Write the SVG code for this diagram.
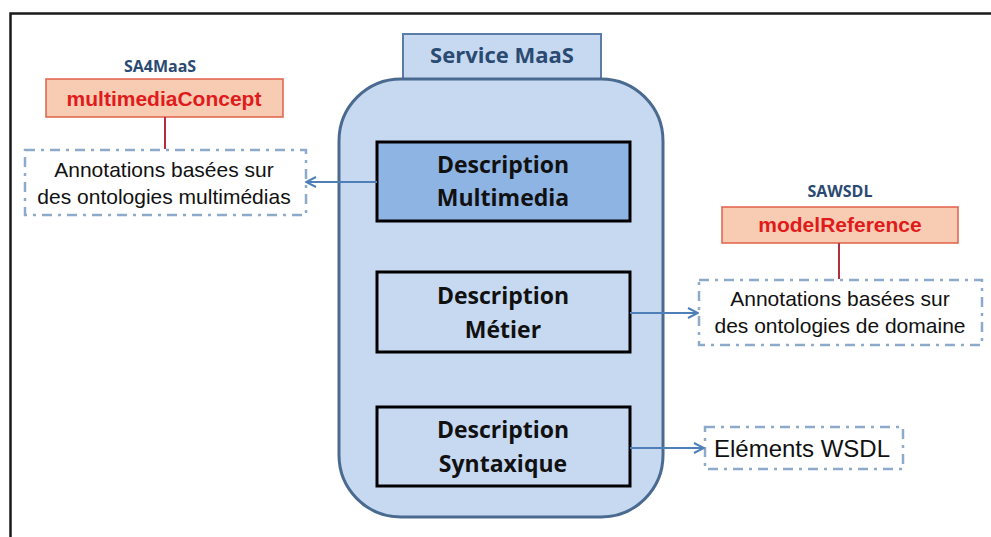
<svg xmlns="http://www.w3.org/2000/svg" width="991" height="537" viewBox="0 0 991 537">
<defs>
<style>
.frame{fill:none;stroke:#1a1a1a;stroke-width:2.5}
.cal{font-family:"Open Sans","Liberation Sans",sans-serif;font-weight:bold;text-anchor:middle}
.ar{font-family:"Liberation Sans",Arial,sans-serif;text-anchor:middle;fill:#111;font-size:21px}
.desc{stroke:#000;stroke-width:3}
.dash{fill:#fff;stroke:#8eaacb;stroke-width:2.5;stroke-dasharray:10 6 3 6}
.tag{fill:#f8cbb3;stroke:#e0604a;stroke-width:1.5}
.tagtxt{font-family:"Liberation Sans",Arial,sans-serif;font-weight:bold;text-anchor:middle;fill:#e01b1b;font-size:21px}
.std{font-family:"Open Sans","Liberation Sans",sans-serif;font-weight:bold;text-anchor:middle;fill:#2b4a72;font-size:16px}
.conn{fill:none;stroke:#4f7fb8;stroke-width:2}
.link{stroke:#b03040;stroke-width:2}
</style>
<marker id="arr" viewBox="0 0 12 12" refX="11" refY="6" markerWidth="12" markerHeight="12" markerUnits="userSpaceOnUse" orient="auto">
<path d="M1,1 L11,6 L1,11" fill="none" stroke="#4f7fb8" stroke-width="2"/>
</marker>
</defs>
<rect width="991" height="537" fill="#fff"/>
<path class="frame" d="M10.5,537 V13.5 H991"/>

<g id="service">
<rect x="403" y="34" width="198" height="45" fill="#c6d9f1" stroke="#5a7ca6" stroke-width="2"/>
<text class="cal" x="502" y="63" font-size="22" fill="#2b4a72">Service MaaS</text>
<rect x="339" y="79" width="324" height="438" rx="62" ry="62" fill="#c6d9f1" stroke="#4a6a90" stroke-width="3"/>
</g>

<g id="desc-multimedia">
<rect class="desc" x="377" y="142" width="253" height="79" fill="#8eb4e3"/>
<text class="cal" x="503" y="173" font-size="23" fill="#111">Description</text>
<text class="cal" x="503" y="206" font-size="23" fill="#111">Multimedia</text>
</g>

<g id="desc-metier">
<rect class="desc" x="377" y="272" width="253" height="80" fill="#c6d9f1"/>
<text class="cal" x="503" y="304" font-size="23" fill="#111">Description</text>
<text class="cal" x="503" y="338" font-size="23" fill="#111">Métier</text>
</g>

<g id="desc-syntaxique">
<rect class="desc" x="377" y="407" width="253" height="79" fill="#c6d9f1"/>
<text class="cal" x="503" y="438" font-size="23" fill="#111">Description</text>
<text class="cal" x="503" y="472" font-size="23" fill="#111">Syntaxique</text>
</g>

<g id="multimediaConcept">
<text class="std" x="160" y="72">SA4MaaS</text>
<rect class="tag" x="46" y="79" width="237" height="38"/>
<text class="tagtxt" x="164" y="106">multimediaConcept</text>
</g>

<g id="annot-multimedia">
<rect class="dash" x="25" y="150" width="281" height="65"/>
<text class="ar" x="164" y="177">Annotations basées sur</text>
<text class="ar" x="164" y="204">des ontologies multimédias</text>
</g>

<g id="modelReference">
<text class="std" x="840" y="197">SAWSDL</text>
<rect class="tag" x="722" y="207" width="236" height="36"/>
<text class="tagtxt" x="840" y="232">modelReference</text>
</g>

<g id="annot-domaine">
<rect class="dash" x="699" y="280" width="283" height="65"/>
<text class="ar" x="840" y="306">Annotations basées sur</text>
<text class="ar" x="840" y="333">des ontologies de domaine</text>
</g>

<g id="wsdl">
<rect class="dash" x="705" y="427" width="198" height="42"/>
<text class="ar" x="802" y="457" style="font-size:24px">Eléments WSDL</text>
</g>

<g id="connectors">
<line class="conn" x1="377" y1="182" x2="306" y2="182" marker-end="url(#arr)"/>
<line class="conn" x1="630" y1="313" x2="698" y2="313" marker-end="url(#arr)"/>
<line class="conn" x1="630" y1="448" x2="704" y2="448" marker-end="url(#arr)"/>
<line class="link" x1="165" y1="117" x2="165" y2="149"/>
<line class="link" x1="839" y1="243" x2="839" y2="279"/>
</g>
</svg>
